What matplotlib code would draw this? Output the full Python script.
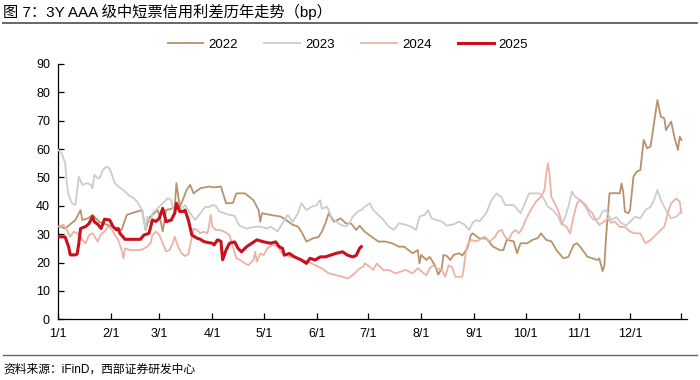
import matplotlib
matplotlib.use("Agg")
import matplotlib.pyplot as plt
from matplotlib.lines import Line2D
import pandas as pd

plt.rcParams['font.family'] = ['Liberation Sans', 'Noto Sans CJK SC', 'DejaVu Sans']

title = "图 7：3Y AAA 级中短票信用利差历年走势（bp）"
source = "资料来源：iFinD，西部证券研发中心"

series_names = ["2022", "2023", "2024", "2025"]

dates_2022 = ["01-01","01-05","01-09","01-11","01-14","01-15","01-18","01-21","01-25","01-31",
              "02-05","02-07","02-10","02-15","02-19","02-21","02-23","02-28","03-01","03-03",
              "03-05","03-08","03-10","03-11","03-13","03-17","03-19","03-21","03-25","03-30",
              "04-02","04-06","04-09","04-13","04-15","04-20","04-25","04-28","04-29","04-30",
              "05-05","05-11","05-14","05-18","05-21","05-23","05-26","05-30","06-02","06-04",
              "06-06","06-08","06-11","06-15","06-18","06-21","06-24","06-26","06-29","07-03",
              "07-07","07-11","07-15","07-19","07-22","07-27","07-30","07-31","08-01","08-04",
              "08-06","08-09","08-11","08-13","08-14","08-16","08-18","08-20","08-23","08-25",
              "08-28","08-30","08-31","09-04","09-08","09-12","09-16","09-18","09-20","09-24",
              "09-26","09-28","10-02","10-05","10-08","10-10","10-13","10-16","10-19","10-23",
              "10-26","10-29","10-31","11-02","11-06","11-09","11-12","11-13","11-15","11-16",
              "11-17","11-19","11-22","11-25","11-26","11-27","11-28","11-30","12-01","12-03",
              "12-05","12-07","12-09","12-11","12-13","12-15","12-17","12-19","12-21","12-22",
              "12-25","12-27","12-29","12-30","12-31"]
vals_2022 = [33,32,34,35,38.5,35,35.5,36.8,34.3,33,
             32,31.5,36.8,37.8,38.5,31.4,35.7,38.5,36.8,31,
             38.5,39,39.5,48,39.5,45.6,47.4,44.4,46.2,46.8,
             46.5,46.8,40.9,41,44.4,44.4,42,38.5,34.4,37.4,
             36.8,36.2,35,33.3,32.7,30.9,27.4,28.6,29,30.9,
             33.8,37.4,34.4,35.6,33.8,33.8,31.5,33,30.9,29.1,
             27.4,27.4,26.8,25.6,25.6,23.3,24.4,19.7,22.7,20.9,
             22,19,15.8,18,22.7,22.3,20.9,22.7,23.3,22.5,
             25,29.7,30.3,28.5,28.5,25.6,24.4,24.4,28,27.5,
             23.3,26.8,26.8,28,28.6,30.3,28,27.5,24.4,21.5,
             22,26.2,26.8,25.5,22.1,21.5,20.9,21.5,17,19,
             29.1,44.4,44.5,44.4,47.9,45,38,37.4,38.5,50.3,
             52.1,52.6,63.2,60.3,60.9,69.1,77.3,71.4,70.9,66.7,
             69.7,64,59.7,64.4,63.2]

dates_2023 = ["01-01","01-03","01-05","01-06","01-07","01-09","01-11","01-12","01-13","01-15",
              "01-18","01-20","01-21","01-22","01-24","01-25","01-27","01-29","01-31","02-01",
              "02-03","02-05","02-08","02-11","02-14","02-16","02-19","02-20","02-21","02-22",
              "02-24","02-25","02-27","03-01","03-04","03-06","03-08","03-09","03-12","03-14",
              "03-16","03-19","03-22","03-25","03-28","03-30","04-01","04-03","04-05","04-08",
              "04-11","04-14","04-16","04-17","04-21","04-25","04-29","05-03","05-05","05-09",
              "05-12","05-15","05-18","05-21","05-23","05-26","05-29","06-01","06-03","06-04",
              "06-07","06-09","06-11","06-15","06-18","06-20","06-22","06-25","06-27","06-29",
              "07-02","07-04","07-07","07-10","07-13","07-16","07-19","07-22","07-26","07-29",
              "07-31","08-03","08-05","08-07","08-10","08-13","08-16","08-20","08-23","08-26",
              "08-29","08-31","09-02","09-04","09-08","09-11","09-14","09-17","09-19","09-24",
              "09-28","10-01","10-03","10-09","10-11","10-14","10-17","10-20","10-22","10-24",
              "10-26","10-28","10-30","11-02","11-05","11-08","11-10","11-13","11-15","11-17",
              "11-20","11-23","11-26","11-29","12-01","12-04","12-07","12-10","12-13","12-15",
              "12-17","12-19","12-21","12-23","12-25","12-28","12-30","12-31"]
vals_2023 = [59.7,58.5,55,48,43.8,40.9,40.3,45.6,50.3,47.4,
             48,47.4,46.2,50.9,49.7,49.7,52.6,53.8,53.2,51.5,
             48,46.8,45.6,43.8,42.7,41.5,38.5,35,31.5,36.2,
             33.8,37.4,38.5,39.7,41.5,42.7,42,39,38.5,39,
             40.3,37.4,35,37.4,39.7,39.5,40.3,40,38,37.4,
             36.8,36.5,33.8,33,32,32.5,32.7,32,32.7,31,
             33.8,36.8,34.4,37.4,40.9,38.5,39.7,40.3,42,39,
             39.7,36.8,35,33.3,32.7,33.8,36.2,38,38.5,39.7,
             40.9,38.5,36.8,35,32.7,31.5,33.8,33.5,32.7,31.5,
             36.2,36.8,38.5,35.6,35,34.5,33,33.5,34.4,33.5,
             31.5,34,35,34.5,37.4,42,44.4,43,40.3,40.3,
             37.4,41.5,44.4,44.4,43.2,39.7,38.5,36.2,33.3,36,
             39.7,45,43.2,42,39.7,36.2,35,35.6,38,38.5,
             35,36,33.8,33.2,34.4,36.2,35.6,38.5,39.7,42,
             45.6,42,39.7,37.4,35.6,36.2,37.4,38.5]

dates_2024 = ["01-01","01-04","01-06","01-08","01-10","01-13","01-15","01-17","01-19","01-21",
              "01-22","01-24","01-26","01-28","01-30","02-01","02-03","02-05","02-07","02-08",
              "02-09","02-12","02-16","02-19","02-22","02-24","02-25","02-27","03-01","03-03",
              "03-05","03-07","03-09","03-10","03-12","03-14","03-16","03-18","03-20","03-21",
              "03-23","03-25","03-27","03-29","03-30","03-31","04-01","04-03","04-05","04-08",
              "04-11","04-13","04-15","04-17","04-20","04-22","04-25","04-26","04-27","04-29",
              "05-01","05-03","05-06","05-09","05-11","05-14","05-17","05-19","05-23","05-27",
              "05-31","06-04","06-08","06-12","06-16","06-19","06-22","06-26","06-28","06-29",
              "07-02","07-04","07-06","07-08","07-10","07-13","07-17","07-21","07-23","07-27",
              "07-30","08-01","08-04","08-06","08-08","08-10","08-13","08-15","08-17","08-19",
              "08-21","08-25","08-26","08-27","08-28","08-30","09-02","09-04","09-07","09-10",
              "09-13","09-15","09-17","09-19","09-21","09-23","09-25","09-27","09-29","10-01",
              "10-04","10-07","10-10","10-12","10-13","10-14","10-15","10-16","10-18","10-20",
              "10-22","10-23","10-25","10-27","10-29","10-31","11-02","11-05","11-07","11-09",
              "11-11","11-13","11-16","11-18","11-20","11-22","11-25","11-28","12-01","12-04",
              "12-07","12-10","12-13","12-16","12-19","12-21","12-23","12-25","12-28","12-30",
              "12-31"]
vals_2024 = [32.7,33.3,31.5,29.1,30.9,30,28,26.8,29.7,30.3,
             29.5,27.4,30,30.9,32.7,32,29.7,28,24.4,21.5,
             25,24.4,24.4,24.6,25.6,27,29.7,30.9,29.7,26.8,
             23.9,24.4,27,29.1,25.6,23.3,22.3,23,29.1,32,
             31.5,30.3,30.9,30.3,32.7,36.8,32.7,31.5,31.5,30.9,
             29.7,25.6,21.5,21,19.7,19.1,20.9,23.8,20.3,23.2,
             22.6,25,26.2,25.8,23.8,22.6,21.8,22,21,20.3,
             19.1,17.9,16.2,15.6,15,14.4,15.6,17.9,18.5,19.7,
             18.5,17.4,19.7,18.5,17.3,17.4,16.2,17,17.4,16.2,
             18,17,15.5,18,19,18,17.5,15,19,18.5,
             15,15,18.5,23.3,26.2,28,27.5,28,29.1,27.4,
             29,31,31.5,29.1,28,30.3,31.5,30.3,32,35,
             38.5,41.5,43.2,45.6,51,55,51,43.2,40.9,38.5,
             34.4,33.3,32.6,30.3,36.2,40.9,42,40.3,38.5,37.4,
             35,33.3,34.5,35.6,34,34.4,32.6,32.6,30.9,30.3,
             30.3,26.8,27.9,29.7,31.5,32.6,37.4,40.9,42.6,41.5,
             37.4]

dates_2025 = ["01-01","01-03","01-05","01-07","01-08","01-11","01-12","01-13","01-14","01-17",
              "01-19","01-21","01-22","01-24","01-26","01-28","01-31","02-02","02-04","02-05",
              "02-06","02-09","02-14","02-18","02-20","02-23","02-24","02-25","02-27","03-01",
              "03-03","03-05","03-08","03-10","03-11","03-13","03-15","03-16","03-18","03-20",
              "03-23","03-25","03-27","03-30","04-01","04-02","04-04","04-06","04-07","04-09",
              "04-11","04-14","04-16","04-18","04-21","04-24","04-27","05-01","05-05","05-08",
              "05-10","05-12","05-13","05-16","05-19","05-23","05-26","05-28","05-31","06-03",
              "06-06","06-09","06-12","06-16","06-19","06-22","06-24","06-26","06-27"]
vals_2025 = [29,29.1,29,25.6,22.7,22.7,23,26.8,32,32.7,
             33.8,36.2,34.4,33.5,32,35.3,35,32.7,31.5,32,
             30.3,28.2,28.2,28.2,29.7,30.3,32.7,35,34.5,35.6,
             39.1,34.4,35,37.4,40.9,38,38,38.5,35,29.7,
             28.6,28.2,27.4,27,26.8,26.2,28,27.5,21,24.4,
             26.8,27.3,25,23.8,25.6,26.8,28,27.3,26.8,27.3,
             25.6,25,22.6,23.2,22,20.9,19.7,21.5,20.9,22,
             22,22.6,23.2,23.8,22.6,22,22.5,25,25.6]

tick_dates = ["01-01","02-01","03-01","04-01","05-01","06-01","07-01","08-01",
              "09-01","10-01","11-01","12-01","12-31"]
tick_labels = ["1/1","2/1","3/1","4/1","5/1","6/1","7/1","8/1",
               "9/1","10/1","11/1","12/1",""]
y_ticks = [0, 10, 20, 30, 40, 50, 60, 70, 80, 90]

colors = ["#B8926A", "#CCCCCC", "#EDB2A6", "#C8101E"]
widths = [1.3, 1.3, 1.3, 2.2]


def day_index(mmdd):
    return (pd.to_datetime(["2023-" + d for d in mmdd]).dayofyear - 1).to_numpy()


fig = plt.figure(figsize=(7.0, 3.8), dpi=100)
ax = fig.add_axes([58.3 / 700, 1 - 319.3 / 380, (686.7 - 58.3) / 700, (319.3 - 64) / 380])

all_dates = [dates_2022, dates_2023, dates_2024, dates_2025]
all_vals = [vals_2022, vals_2023, vals_2024, vals_2025]
for i in range(4):
    ax.plot(day_index(all_dates[i]), all_vals[i], color=colors[i], lw=widths[i],
            label=series_names[i], solid_joinstyle='round', zorder=2 + i)

ax.set_xlim(0, 367.1)
ax.set_ylim(0, 90)
ax.set_xticks(day_index(tick_dates))
ax.set_xticklabels(tick_labels)
ax.set_yticks(y_ticks)
for s in ["top", "right"]:
    ax.spines[s].set_visible(False)
for s in ["left", "bottom"]:
    ax.spines[s].set_color("black")
    ax.spines[s].set_linewidth(0.9)
ax.tick_params(axis="both", direction="in", length=4, width=0.9, labelsize=9,
               colors="black", pad=6)

handles = [Line2D([], [], color=colors[i], lw=widths[i]) for i in range(4)]
fig.legend(handles, series_names, loc="center", bbox_to_anchor=(0.497, 1 - 45 / 380),
           ncol=4, frameon=False, fontsize=9.5, handlelength=2.7, handletextpad=0.4,
           columnspacing=2.0, borderpad=0, borderaxespad=0)

fig.text(3 / 700, 1 - 12 / 380, title, fontsize=11, ha="left", va="center", color="black")
fig.add_artist(Line2D([3 / 700, 697 / 700], [1 - 23 / 380] * 2, transform=fig.transFigure,
                      color="#666666", lw=1.4))
fig.add_artist(Line2D([3 / 700, 697 / 700], [1 - 355 / 380] * 2, transform=fig.transFigure,
                      color="#666666", lw=1.0))
fig.text(3 / 700, 1 - 370 / 380, source, fontsize=8.5, ha="left", va="center", color="black")

fig.savefig("out.png", dpi=100)
